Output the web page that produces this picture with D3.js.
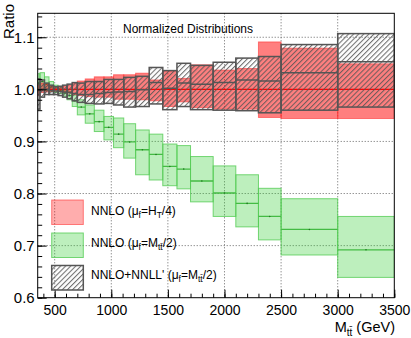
<!DOCTYPE html>
<html>
<head>
<meta charset="utf-8">
<script src="https://cdn.jsdelivr.net/npm/d3@7"></script>
<style>
  html, body { margin: 0; padding: 0; background: #fff; }
  svg { display: block; font-family: "Liberation Sans", Arial, Helvetica, sans-serif; }
</style>
</head>
<body>
<svg id="chart" width="411" height="338"></svg>
<script>
// ---- data ----
const binEdges = [350,370,410,450,490,530,570,610,655,700,770,850,935,1020,1110,1215,1335,1455,1580,1700,1900,2100,2300,2500,3000,3500];

// NNLO (mu_f = M_tt/2), ratio
const greenCenter = [1.012,1.015,1.010,1.005,1.000,0.997,0.993,0.988,0.978,0.966,0.953,0.938,0.927,0.914,0.899,0.884,0.875,0.852,0.847,0.824,0.801,0.781,0.756,0.731,0.692];
const greenLow    = [0.995,1.000,0.998,0.996,0.994,0.992,0.987,0.980,0.967,0.951,0.935,0.919,0.903,0.888,0.868,0.836,0.826,0.815,0.809,0.784,0.756,0.736,0.711,0.682,0.639];
const greenHigh   = [1.030,1.032,1.024,1.015,1.008,1.003,0.999,0.996,0.989,0.980,0.970,0.960,0.948,0.945,0.934,0.922,0.914,0.895,0.892,0.871,0.853,0.836,0.810,0.790,0.756];

// NNLO (mu_f = H_T/4), ratio
const redCenter = [1,1,1,1,1,1,1,1,1,1,1,1,1,1,1,1,1,1,1,1,1,1,1,1,1];
const redLow    = [0.988,0.994,0.995,0.996,0.997,0.996,0.995,0.993,0.990,0.988,0.986,0.985,0.985,0.981,0.981,0.980,0.978,0.967,0.976,0.965,0.962,0.962,0.946,0.944,0.944];
const redHigh   = [1.008,1.012,1.010,1.006,1.004,1.005,1.006,1.008,1.012,1.016,1.020,1.024,1.024,1.028,1.028,1.031,1.018,1.035,1.021,1.047,1.037,1.040,1.091,1.079,1.049];

// NNLO+NNLL' (mu_f = M_tt/2), ratio
const nnllCenter = [0.990,1.000,1.000,0.998,0.997,0.996,0.995,0.994,0.992,0.990,0.990,0.992,0.994,0.995,0.996,0.999,1.013,1.002,1.012,1.010,1.013,1.018,1.016,1.032,1.053];
const nnllLow    = [0.962,0.985,0.990,0.990,0.990,0.988,0.985,0.982,0.978,0.975,0.973,0.972,0.973,0.970,0.966,0.967,0.972,0.961,0.967,0.961,0.960,0.959,0.955,0.960,0.966];
const nnllHigh   = [1.020,1.018,1.012,1.008,1.005,1.006,1.008,1.010,1.013,1.012,1.015,1.015,1.019,1.019,1.023,1.025,1.042,1.036,1.050,1.046,1.052,1.060,1.063,1.086,1.107];

const xTicks = [500,1000,1500,2000,2500,3000,3500];
const yTicks = [0.6,0.7,0.8,0.9,1.0,1.1];

// ---- layout ----
const svg = d3.select("#chart");
const L = 37.7, R = 394.3, T = 13.3, B = 297.7;
const x = d3.scaleLinear().domain([350, 3500]).range([L, R]);
const y = d3.scaleLinear().domain([0.6, 1.146]).range([B, T]);

const bins = d3.range(binEdges.length - 1).map(i => ({
  x0: binEdges[i], x1: binEdges[i+1],
  g: greenCenter[i], gl: greenLow[i], gh: greenHigh[i],
  r: redCenter[i], rl: redLow[i], rh: redHigh[i],
  n: nnllCenter[i], nl: nnllLow[i], nh: nnllHigh[i]
}));

// hatch pattern
const defs = svg.append("defs");
const pat = defs.append("pattern").attr("id", "hatch")
  .attr("patternUnits", "userSpaceOnUse").attr("width", 3.6).attr("height", 3.6)
  .attr("patternTransform", "rotate(45)");
pat.append("line").attr("x1", 0.6).attr("y1", 0).attr("x2", 0.6).attr("y2", 3.6)
  .attr("stroke", "#555").attr("stroke-width", 0.9);
defs.append("clipPath").attr("id", "plotclip").append("rect")
  .attr("x", L).attr("y", T).attr("width", R - L).attr("height", B - T);

// grid
const grid = svg.append("g").attr("stroke", "#666").attr("stroke-width", 1).attr("stroke-dasharray", "1,2");
xTicks.filter(v => v < 3500).forEach(v => {
  grid.append("line").attr("x1", x(v)).attr("x2", x(v)).attr("y1", T).attr("y2", B);
});
yTicks.filter(v => v > 0.6).forEach(v => {
  grid.append("line").attr("x1", L).attr("x2", R).attr("y1", y(v)).attr("y2", y(v));
});

const plot = svg.append("g").attr("clip-path", "url(#plotclip)");

// green bands
const gG = plot.append("g");
gG.selectAll("rect").data(bins).join("rect")
  .attr("x", d => x(d.x0)).attr("width", d => x(d.x1) - x(d.x0))
  .attr("y", d => y(d.gh)).attr("height", d => y(d.gl) - y(d.gh))
  .attr("fill", "#33cc33").attr("fill-opacity", 0.32)
  .attr("stroke", "#55cc55").attr("stroke-opacity", 0.8).attr("stroke-width", 1);
gG.selectAll("line").data(bins).join("line")
  .attr("x1", d => x(d.x0)).attr("x2", d => x(d.x1))
  .attr("y1", d => y(d.g)).attr("y2", d => y(d.g))
  .attr("stroke", "#44bb44").attr("stroke-width", 1.3);
gG.selectAll("circle").data(bins).join("circle")
  .attr("cx", d => x((d.x0 + d.x1) / 2)).attr("cy", d => y(d.g)).attr("r", 0.8)
  .attr("fill", "#227722");

// red bands
const gR = plot.append("g");
gR.selectAll("rect").data(bins).join("rect")
  .attr("x", d => x(d.x0)).attr("width", d => x(d.x1) - x(d.x0))
  .attr("y", d => y(d.rh)).attr("height", d => y(d.rl) - y(d.rh))
  .attr("fill", "#ff0000").attr("fill-opacity", 0.5)
  .attr("stroke", "#ff3333").attr("stroke-opacity", 0.6).attr("stroke-width", 1);
gR.selectAll("line").data(bins).join("line")
  .attr("x1", d => x(d.x0)).attr("x2", d => x(d.x1))
  .attr("y1", d => y(d.r)).attr("y2", d => y(d.r))
  .attr("stroke", "#ff0000").attr("stroke-width", 1.3);

// hatched NNLO+NNLL'
const gH = plot.append("g");
gH.selectAll("rect").data(bins).join("rect")
  .attr("x", d => x(d.x0)).attr("width", d => x(d.x1) - x(d.x0))
  .attr("y", d => y(d.nh)).attr("height", d => y(d.nl) - y(d.nh))
  .attr("fill", "url(#hatch)")
  .attr("stroke", "#555").attr("stroke-width", 1.5);
gH.selectAll("line").data(bins).join("line")
  .attr("x1", d => x(d.x0)).attr("x2", d => x(d.x1))
  .attr("y1", d => y(d.n)).attr("y2", d => y(d.n))
  .attr("stroke", "#555").attr("stroke-width", 1.5);

// frame
svg.append("rect").attr("x", L).attr("y", T).attr("width", R - L).attr("height", B - T)
  .attr("fill", "none").attr("stroke", "#000").attr("stroke-width", 1);

// axes (ROOT-style inward ticks)
const yMinor = d3.range(0.6, 1.1461, 0.02).map(v => +v.toFixed(2));
const xMinor = d3.range(400, 3501, 100);

const yAx = svg.append("g").attr("transform", `translate(${L},0)`)
  .call(d3.axisLeft(y).tickValues(yTicks).tickSize(-9).tickPadding(3).tickFormat(d3.format(".1f")));
svg.append("g").attr("transform", `translate(${L},0)`)
  .call(d3.axisLeft(y).tickValues(yMinor).tickSize(-4.5).tickFormat(""));
const xAx = svg.append("g").attr("transform", `translate(0,${B})`)
  .call(d3.axisBottom(x).tickValues(xTicks).tickSize(-8).tickPadding(7).tickFormat(d3.format("d")));
svg.append("g").attr("transform", `translate(0,${B})`)
  .call(d3.axisBottom(x).tickValues(xMinor).tickSize(-4).tickFormat(""));
svg.selectAll(".domain").remove();
svg.selectAll(".tick line").attr("stroke", "#000");
svg.selectAll(".tick text").attr("font-size", 15).attr("fill", "#000")
  .attr("font-family", "Liberation Sans, Arial, sans-serif");
xAx.selectAll(".tick text").attr("font-size", 14);

// titles
svg.append("text").attr("transform", "translate(14,4) rotate(-90)")
  .attr("text-anchor", "end").attr("font-size", 15).text("Ratio");

svg.append("text").attr("x", 123).attr("y", 33).attr("font-size", 12).text("Normalized Distributions");

const xl = svg.append("text").attr("x", 395).attr("y", 332).attr("text-anchor", "end").attr("font-size", 14.5);
xl.append("tspan").text("M");
xl.append("tspan").attr("font-size", 10).attr("dy", 3.5).text("tt\u0304");
xl.append("tspan").attr("dy", -3.5).text(" (GeV)");

// legend
const lg = svg.append("g");
const lx = 51.7, lw = 31.6, lh = 24.5;
lg.append("rect").attr("x", lx).attr("y", 200).attr("width", lw).attr("height", lh)
  .attr("fill", "#ff0000").attr("fill-opacity", 0.32).attr("stroke", "#ff3333").attr("stroke-opacity", 0.6);
lg.append("rect").attr("x", lx).attr("y", 233).attr("width", lw).attr("height", lh)
  .attr("fill", "#33cc33").attr("fill-opacity", 0.32).attr("stroke", "#55cc55").attr("stroke-opacity", 0.8);
lg.append("rect").attr("x", lx).attr("y", 265.5).attr("width", lw).attr("height", lh)
  .attr("fill", "url(#hatch)").attr("stroke", "#555").attr("stroke-width", 1.5);

function legendText(yb, parts) {
  const t = lg.append("text").attr("x", 91).attr("y", yb).attr("font-size", 12);
  parts.forEach(p => {
    const s = t.append("tspan").text(p[0]);
    if (p[1] === "sub") s.attr("font-size", 8.5).attr("dy", 3);
    if (p[1] === "up") s.attr("dy", -3);
  });
}
legendText(215, [["NNLO (\u03bc"], ["f", "sub"], ["=H", "up"], ["T", "sub"], ["/4)", "up"]]);
legendText(247, [["NNLO (\u03bc"], ["f", "sub"], ["=M", "up"], ["tt\u0304", "sub"], ["/2)", "up"]]);
legendText(278.5, [["NNLO+NNLL' (\u03bc"], ["f", "sub"], ["=M", "up"], ["tt\u0304", "sub"], ["/2)", "up"]]);
</script>
</body>
</html>
